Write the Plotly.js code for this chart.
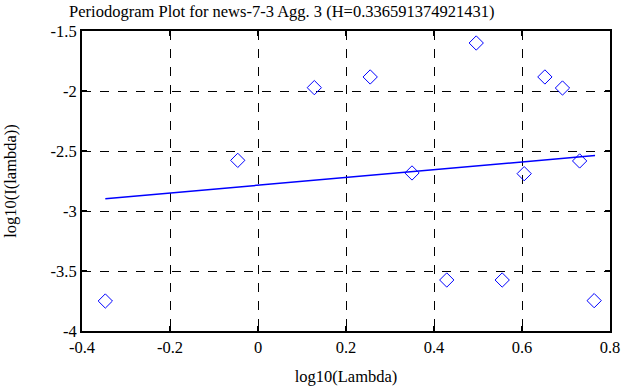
<!DOCTYPE html>
<html>
<head>
<meta charset="utf-8">
<script src="https://cdn.plot.ly/plotly-3.0.1.min.js"></script>
<style>html,body{margin:0;padding:0;background:#fff;}#chart{width:642px;height:387px;}</style>
</head>
<body>
<div id="chart"></div>
<script>
var logLambda = [-0.347, -0.046, 0.128, 0.255, 0.350, 0.429, 0.496, 0.555, 0.605, 0.652, 0.692, 0.731, 0.764];
var logI = [-3.75, -2.578, -1.972, -1.883, -2.683, -3.575, -1.600, -3.575, -2.689, -1.883, -1.975, -2.583, -3.747];
var fitX = [-0.347, 0.766];
var fitY = [-2.897, -2.538];
var xTicks = [-0.4, -0.2, 0, 0.2, 0.4, 0.6, 0.8];
var xTickText = ['-0.4', '-0.2', '0', '0.2', '0.4', '0.6', '0.8'];
var yTicks = [-4, -3.5, -3, -2.5, -2, -1.5];
var yTickText = ['-4', '-3.5', '-3', '-2.5', '-2', '-1.5'];

var font = {family: 'Liberation Serif, Times New Roman, serif', size: 16.5, color: '#000'};

var traces = [
  {x: logLambda, y: logI, mode: 'markers', type: 'scatter',
   marker: {symbol: 'diamond-open', size: 11, color: '#0000ff', line: {width: 1, color: '#0000ff'}}},
  {x: fitX, y: fitY, mode: 'lines', type: 'scatter', line: {color: '#0000ff', width: 1.5}}
];

var axisCommon = {
  showline: true, linecolor: '#000', linewidth: 2, mirror: 'ticks',
  ticks: 'inside', ticklen: 5, tickwidth: 2, tickcolor: '#000',
  showgrid: true, gridcolor: '#000', griddash: 'dash', gridwidth: 1,
  zeroline: false, tickfont: font, automargin: false
};

var layout = {
  width: 642, height: 387,
  margin: {l: 82, r: 32, t: 31, b: 56},
  paper_bgcolor: '#fff', plot_bgcolor: '#fff',
  showlegend: false,
  font: font,
  title: {text: 'Periodogram Plot for news-7-3 Agg. 3 (H=0.336591374921431)', font: font,
    xref: 'container', x: 0.439, xanchor: 'center', y: 0.972, yanchor: 'middle'},
  xaxis: Object.assign({}, axisCommon, {range: [-0.4, 0.8], tickvals: xTicks, ticktext: xTickText,
    title: {text: 'log10(Lambda)', font: font, standoff: 15}}),
  yaxis: Object.assign({}, axisCommon, {range: [-4, -1.5], tickvals: yTicks, ticktext: yTickText,
    title: {text: 'log10(I(lambda))', font: font, standoff: 30}})
};

Plotly.newPlot('chart', traces, layout, {displayModeBar: false, staticPlot: true});
</script>
</body>
</html>
